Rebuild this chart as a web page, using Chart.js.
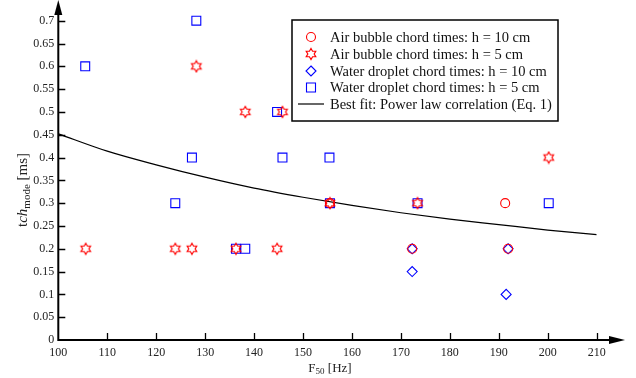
<!DOCTYPE html>
<html lang="en">
<head>
  <meta charset="utf-8">
  <title>Chord times vs F50</title>
  <script src="https://cdn.jsdelivr.net/npm/chart.js"></script>
  <style>
    body { margin: 0; background: #fff; }
  </style>
</head>
<body>
  <canvas id="chordChart" width="636" height="378"></canvas>

  <script>
    // values
    const bubble10F = [155.5, 172.3, 191.3, 191.9];
    const bubble10T = [0.3, 0.2, 0.3, 0.2];
    const bubble5F = [105.6, 123.9, 127.3, 128.2, 136.3, 138.2, 144.7, 145.8, 155.5, 173.4, 200.2];
    const bubble5T = [0.2, 0.2, 0.2, 0.6, 0.2, 0.5, 0.2, 0.5, 0.3, 0.3, 0.4];
    const droplet10F = [172.3, 172.3, 191.5, 191.9];
    const droplet10T = [0.2, 0.15, 0.1, 0.2];
    const droplet5F = [105.5, 123.9, 127.3, 128.2, 136.3, 138.2, 144.7, 145.8, 155.4, 155.5, 173.4, 200.2];
    const droplet5T = [0.6, 0.3, 0.4, 0.7, 0.2, 0.2, 0.5, 0.4, 0.4, 0.3, 0.3, 0.3];
    const fitF = [100, 110, 120, 130, 140, 150, 160, 170, 180, 190, 200, 210];
    const fitT = [0.452, 0.414, 0.384, 0.357, 0.333, 0.313, 0.295, 0.279, 0.265, 0.253, 0.241, 0.231];

    const legendLabels = [
      'Air bubble chord times: h = 10 cm',
      'Air bubble chord times: h = 5 cm',
      'Water droplet chord times: h = 10 cm',
      'Water droplet chord times: h = 5 cm',
      'Best fit: Power law correlation (Eq. 1)'
    ];

    const RED = '#ff0000';
    const BLUE = '#0000ff';
    const FONT = '"Liberation Serif", "Times New Roman", serif';

    function pts(xs, ys) {
      return xs.map((x, i) => ({ x, y: ys[i] }));
    }

    // six-pointed star outline used as a point style
    function hexagram(color, R) {
      const s = Math.ceil(R * 2 + 3);
      const c = document.createElement('canvas');
      c.width = c.height = s;
      const g = c.getContext('2d');
      g.strokeStyle = color;
      g.lineWidth = 1.2;
      const cx = s / 2, cy = s / 2, r = R / Math.sqrt(3);
      g.beginPath();
      for (let i = 0; i < 12; i++) {
        const a = -Math.PI / 2 + i * Math.PI / 6;
        const rr = i % 2 ? r : R;
        const px = cx + rr * Math.cos(a), py = cy + rr * Math.sin(a);
        if (i === 0) g.moveTo(px, py); else g.lineTo(px, py);
      }
      g.closePath();
      g.stroke();
      return c;
    }
    const starImg = hexagram(RED, 5.5);

    const datasets = [
      { label: legendLabels[0], data: pts(bubble10F, bubble10T), pointStyle: 'circle', clip: false,
        pointRadius: 4.5, borderColor: RED, backgroundColor: 'transparent', pointBorderWidth: 1.1 },
      { label: legendLabels[1], data: pts(bubble5F, bubble5T), pointStyle: starImg, clip: false,
        pointRadius: 5.5, borderColor: RED, backgroundColor: 'transparent' },
      { label: legendLabels[2], data: pts(droplet10F, droplet10T), pointStyle: 'rectRot', clip: false,
        pointRadius: 5, borderColor: BLUE, backgroundColor: 'transparent', pointBorderWidth: 1.1 },
      { label: legendLabels[3], data: pts(droplet5F, droplet5T), pointStyle: 'rect', clip: false,
        pointRadius: 6.3, borderColor: BLUE, backgroundColor: 'transparent', pointBorderWidth: 1.1 },
      { label: legendLabels[4], data: pts(fitF, fitT), showLine: true, pointRadius: 0,
        borderColor: '#000', borderWidth: 1.2, cubicInterpolationMode: 'monotone', order: 1 }
    ];

    function drawSymbol(ctx, i, x, y) {
      const ds = datasets[i];
      ctx.save();
      ctx.strokeStyle = ds.borderColor;
      ctx.lineWidth = 1.1;
      ctx.beginPath();
      if (i === 0) {
        ctx.arc(x, y, 4.5, 0, Math.PI * 2);
        ctx.stroke();
      } else if (i === 1) {
        ctx.drawImage(starImg, x - starImg.width / 2, y - starImg.height / 2);
      } else if (i === 2) {
        ctx.moveTo(x, y - 5); ctx.lineTo(x + 5, y); ctx.lineTo(x, y + 5); ctx.lineTo(x - 5, y);
        ctx.closePath();
        ctx.stroke();
      } else if (i === 3) {
        ctx.rect(x - 4.5, y - 4.5, 9, 9);
        ctx.stroke();
      } else {
        ctx.lineWidth = 1.2;
        ctx.moveTo(x - 13, y); ctx.lineTo(x + 13, y);
        ctx.stroke();
      }
      ctx.restore();
    }

    const decorations = {
      id: 'decorations',
      afterDraw(chart) {
        const ctx = chart.ctx;
        const a = chart.chartArea;
        const xs = chart.scales.x, ys = chart.scales.y;
        ctx.save();
        ctx.strokeStyle = '#000';
        ctx.fillStyle = '#000';

        // axes with arrows
        ctx.lineWidth = 2;
        ctx.beginPath();
        ctx.moveTo(a.left, 10); ctx.lineTo(a.left, a.bottom); ctx.lineTo(612, a.bottom);
        ctx.stroke();
        ctx.beginPath();
        ctx.moveTo(a.left, 0); ctx.lineTo(a.left - 4, 15); ctx.lineTo(a.left + 4, 15);
        ctx.closePath(); ctx.fill();
        ctx.beginPath();
        ctx.moveTo(625, a.bottom); ctx.lineTo(609, a.bottom - 4); ctx.lineTo(609, a.bottom + 4);
        ctx.closePath(); ctx.fill();

        // inward ticks
        ctx.lineWidth = 1.3;
        ctx.beginPath();
        ys.ticks.forEach(t => {
          const py = Math.round(ys.getPixelForValue(t.value)) + 0.5;
          if (t.value > 0) { ctx.moveTo(a.left, py); ctx.lineTo(a.left + 7, py); }
        });
        xs.ticks.forEach(t => {
          const px = Math.round(xs.getPixelForValue(t.value)) + 0.5;
          if (t.value > 100) { ctx.moveTo(px, a.bottom); ctx.lineTo(px, a.bottom - 7); }
        });
        ctx.stroke();

        // x title: F50 [Hz]
        ctx.fillStyle = '#222';
        ctx.textBaseline = 'alphabetic';
        ctx.font = '13px ' + FONT;
        const wF = ctx.measureText('F').width;
        ctx.font = '9px ' + FONT;
        const w50 = ctx.measureText('50').width;
        ctx.font = '13px ' + FONT;
        const wHz = ctx.measureText(' [Hz]').width;
        let tx = 330 - (wF + w50 + wHz) / 2;
        const ty = 372;
        ctx.fillText('F', tx, ty); tx += wF;
        ctx.font = '9px ' + FONT;
        ctx.fillText('50', tx, ty + 2); tx += w50;
        ctx.font = '13px ' + FONT;
        ctx.fillText(' [Hz]', tx, ty);

        // y title: tch_mode [ms]
        ctx.save();
        ctx.translate(27, 190);
        ctx.rotate(-Math.PI / 2);
        const parts = [
          { s: 't', f: '15px ' + FONT, dy: 0 },
          { s: 'ch', f: 'italic 15px ' + FONT, dy: 0 },
          { s: 'mode', f: '11px ' + FONT, dy: 3 },
          { s: ' [ms]', f: '15px ' + FONT, dy: 0 }
        ];
        let total = 0;
        parts.forEach(p => { ctx.font = p.f; p.w = ctx.measureText(p.s).width; total += p.w; });
        let px = -total / 2;
        parts.forEach(p => { ctx.font = p.f; ctx.fillText(p.s, px, p.dy); px += p.w; });
        ctx.restore();

        // legend box
        ctx.lineWidth = 1.5;
        ctx.strokeStyle = '#000';
        ctx.fillStyle = '#fff';
        ctx.fillRect(292, 20, 266, 101);
        ctx.strokeRect(292, 20, 266, 101);
        ctx.font = '14.5px ' + FONT;
        ctx.textBaseline = 'middle';
        const rowY = [37, 54, 71, 87.5, 104];
        legendLabels.forEach((lab, i) => {
          drawSymbol(ctx, i, 311, rowY[i]);
          ctx.fillStyle = '#111';
          ctx.fillText(lab, 330, rowY[i] + 1);
        });
        ctx.restore();
      }
    };

    new Chart(document.getElementById('chordChart'), {
      type: 'scatter',
      data: { datasets },
      options: {
        responsive: false,
        animation: false,
        layout: { padding: { left: 0, right: 39.3, top: 20.7, bottom: 0 } },
        plugins: { legend: { display: false }, tooltip: { enabled: false } },
        scales: {
          x: {
            type: 'linear', min: 100, max: 210,
            grid: { display: false, drawTicks: false },
            border: { display: false },
            ticks: { stepSize: 10, padding: 6, color: '#222', font: { family: FONT, size: 12 },
                     maxRotation: 0, autoSkip: false },
            afterFit(s) { s.height = 38; }
          },
          y: {
            type: 'linear', min: 0, max: 0.7,
            grid: { display: false, drawTicks: false },
            border: { display: false },
            ticks: { stepSize: 0.05, padding: 4, color: '#222', font: { family: FONT, size: 12 },
                     autoSkip: false, callback: v => String(+v.toFixed(2)) },
            afterFit(s) { s.width = 58.3; }
          }
        }
      },
      plugins: [decorations]
    });
  </script>
</body>
</html>
